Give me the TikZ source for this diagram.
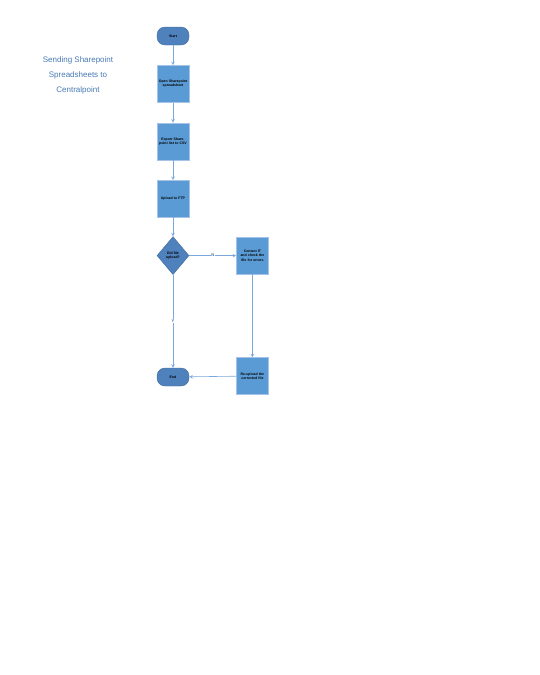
\documentclass[tikz,border=0pt]{standalone}
\usepackage{fontspec}
\setmainfont{Liberation Sans}
\usetikzlibrary{positioning, shapes.geometric, arrows}
\definecolor{termfill}{RGB}{79, 129, 189}
\definecolor{termdraw}{RGB}{65, 106, 155}
\definecolor{procfill}{RGB}{91, 155, 213}
\definecolor{procdraw}{RGB}{165, 195, 230}
\definecolor{flow}{RGB}{120, 168, 220}
\definecolor{titleblue}{RGB}{70, 120, 180}

\begin{document}
\begin{tikzpicture}[
        x=1pt, y=1pt,
        terminal/.style={rectangle, draw=termdraw, fill=termfill, minimum width=32pt, minimum height=18pt, rounded corners=8pt, text centered, font=\fontsize{3.5}{4.2}\selectfont\bfseries},
        process/.style={rectangle, draw=procdraw, fill=procfill, text width=29pt, minimum width=32pt, minimum height=37pt, inner sep=1pt, text centered, font=\fontsize{3.5}{4.2}\selectfont\bfseries},
        decision/.style={diamond, draw=termdraw, fill=termfill, minimum width=32pt, minimum height=38pt, inner sep=0pt, align=center, font=\fontsize{3.5}{4.2}\selectfont\bfseries},
        flowline/.style={->, >=stealth, flow, line width=0.6pt},
        edgelabel/.style={fill=white, inner sep=0.5pt, text=termdraw, font=\fontsize{4}{4.8}\selectfont\bfseries}
    ]
        \useasboundingbox (0,0) rectangle (540,-675);

        \node (title) [align=center, text=titleblue, font=\fontsize{8}{15}\selectfont] at (78,-75) {Sending Sharepoint\\Spreadsheets to\\Centralpoint};

        \node (start) [terminal] at (173,-36) {Start};
        \node (open) [process, below=20pt of start] {Open Sharepoint spreadsheet};
        \node (export) [process, below=20pt of open] {Export Sharepoint list to CSV};
        \node (upload) [process, below=20pt of export] {Upload to FTP};
        \node (check) [decision, below=19pt of upload] {Did file\\upload?};
        \node (contact) [process, right=47pt of check] {Contact IT and check the file for errors};
        \node (resend) [process, below=83pt of contact] {Re-upload the corrected file};
        \node (finish) [terminal, below=93pt of check] {End};

        \draw[flowline] (start) -- (open);
        \draw[flowline] (open) -- (export);
        \draw[flowline] (export) -- (upload);
        \draw[flowline] (upload) -- (check);
        \draw[flowline] (check) -- node[edgelabel] {N} (contact);
        \draw[flowline] (check) -- node[edgelabel] {Y} (finish);
        \draw[flowline] (contact) -- (resend);
        \draw[flowline] (resend) -- (finish);
    \end{tikzpicture}
\end{document}
